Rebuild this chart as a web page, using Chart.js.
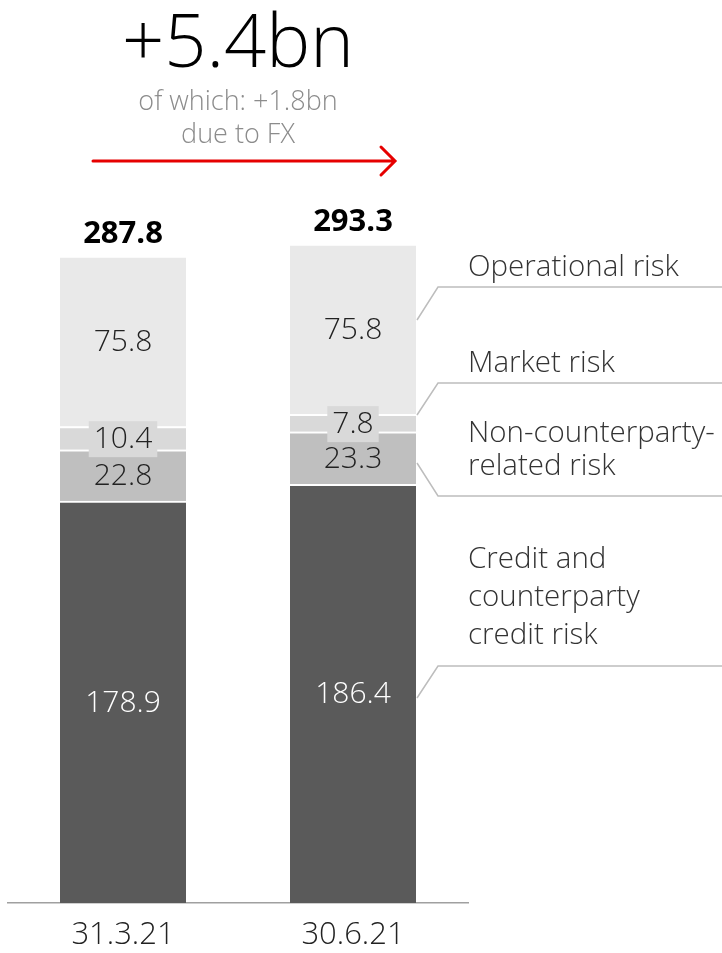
<!DOCTYPE html>
<html>
<head>
<meta charset="utf-8">
<title>RWA</title>
<script src="https://cdn.jsdelivr.net/npm/chart.js@4.4.0/dist/chart.umd.min.js"></script>
<style>
	html, body { margin: 0; padding: 0; background: #fff; }
	#wrap { position: relative; width: 722px; height: 953px; }
</style>
</head>
<body>
<div id="wrap"><canvas id="rwaChart"></canvas></div>
<script>
var dates = ['31.3.21', '30.6.21'];
var creditRisk = [178.9, 186.4];
var nonCounterparty = [22.8, 23.3];
var marketRisk = [10.4, 7.8];
var operationalRisk = [75.8, 75.8];
var totals = [287.8, 293.3];

var FONT = '"Open Sans", "Noto Sans", sans-serif';
var LIGHT = '300 ';

// labels on the right, each with its leader line (y of the rule, end point near the bar)
var sideLabels = [
	{ lines: ['Operational risk'], y: [268], rule: 287, tip: [417, 320] },
	{ lines: ['Market risk'], y: [364], rule: 383, tip: [417, 415] },
	{ lines: ['Non-counterparty-', 'related risk'], y: [434, 467], rule: 496, tip: [417, 463] },
	{ lines: ['Credit and', 'counterparty', 'credit risk'], y: [560, 598, 636], rule: 666, tip: [417, 698] }
];

var valueLabels = {
	id: 'valueLabels',
	afterDatasetsDraw: function (chart) {
		var ctx = chart.ctx;
		ctx.save();
		ctx.textAlign = 'center';
		ctx.textBaseline = 'middle';
		ctx.font = LIGHT + '30px ' + FONT;
		chart.data.datasets.forEach(function (ds, di) {
			var meta = chart.getDatasetMeta(di);
			meta.data.forEach(function (bar, i) {
				var txt = ds.data[i].toFixed(1);
				var cy = (bar.y + bar.base) / 2 + 1;
				if (ds.boxed) {
					var w = ctx.measureText(txt).width + 10;
					ctx.fillStyle = ds.backgroundColor;
					ctx.fillRect(bar.x - w / 2, cy - 18, w, 36);
				}
				ctx.fillStyle = ds.labelColor;
				ctx.fillText(txt, bar.x, cy);
			});
		});

		// totals above each column
		var top = chart.getDatasetMeta(chart.data.datasets.length - 1);
		ctx.font = 'bold 31px ' + FONT;
		ctx.fillStyle = '#000';
		ctx.textBaseline = 'alphabetic';
		top.data.forEach(function (bar, i) {
			ctx.fillText(totals[i].toFixed(1), bar.x, bar.y - 13);
		});
		ctx.restore();
	},
	afterDraw: function (chart) {
		var ctx = chart.ctx;
		ctx.save();

		// headline
		ctx.textAlign = 'center';
		ctx.fillStyle = '#000';
		ctx.font = LIGHT + '74px ' + FONT;
		ctx.fillText('+5.4bn', 238, 67);
		ctx.fillStyle = '#8c8c8c';
		ctx.font = LIGHT + '27px ' + FONT;
		ctx.fillText('of which: +1.8bn', 238, 110);
		ctx.fillText('due to FX', 238, 143);

		// red arrow
		ctx.strokeStyle = '#e60000';
		ctx.lineWidth = 3;
		ctx.lineCap = 'round';
		ctx.beginPath();
		ctx.moveTo(93, 161);
		ctx.lineTo(394, 161);
		ctx.moveTo(381, 147);
		ctx.lineTo(395, 161);
		ctx.lineTo(381, 175);
		ctx.stroke();

		// side labels
		ctx.textAlign = 'left';
		ctx.textBaseline = 'middle';
		ctx.font = LIGHT + '29.5px ' + FONT;
		ctx.fillStyle = '#333';
		ctx.strokeStyle = '#bdbdbd';
		ctx.lineWidth = 1.5;
		ctx.lineCap = 'butt';
		sideLabels.forEach(function (s) {
			s.lines.forEach(function (l, k) {
				ctx.fillText(l, 468, s.y[k]);
			});
			ctx.beginPath();
			ctx.moveTo(722, s.rule);
			ctx.lineTo(438, s.rule);
			ctx.lineTo(s.tip[0], s.tip[1]);
			ctx.stroke();
		});
		ctx.restore();
	}
};

function segment(label, data, bg, labelColor, boxed) {
	return {
		label: label,
		data: data,
		backgroundColor: bg,
		borderColor: '#fff',
		borderWidth: { top: 2, bottom: 0, left: 0, right: 0 },
		borderSkipped: false,
		labelColor: labelColor,
		boxed: boxed,
		barThickness: 126,
		stack: 'rwa'
	};
}

var config = {
	type: 'bar',
	data: {
		labels: dates,
		datasets: [
			segment('Credit and counterparty credit risk', creditRisk, '#5a5a5a', '#fff', false),
			segment('Non-counterparty-related risk', nonCounterparty, '#bfbfbf', '#222', false),
			segment('Market risk', marketRisk, '#d9d9d9', '#222', true),
			segment('Operational risk', operationalRisk, '#e9e9e9', '#222', false)
		]
	},
	options: {
		responsive: false,
		animation: false,
		layout: { padding: { top: 229, left: 8, right: 254, bottom: 0 } },
		plugins: {
			legend: { display: false },
			tooltip: { enabled: false }
		},
		scales: {
			x: {
				stacked: true,
				grid: { display: false, drawTicks: false },
				border: { display: true, color: '#a0a0a0', width: 1.5 },
				ticks: { color: '#222', font: { family: FONT, size: 31, weight: 300 }, padding: 14 },
				afterFit: function (scale) { scale.height = 50; }
			},
			y: {
				stacked: true,
				display: false,
				min: 0,
				max: 300
			}
		}
	},
	plugins: [valueLabels]
};

var canvas = document.getElementById('rwaChart');
canvas.width = 722;
canvas.height = 953;
var rwaChart = new Chart(canvas, config);
</script>
</body>
</html>
